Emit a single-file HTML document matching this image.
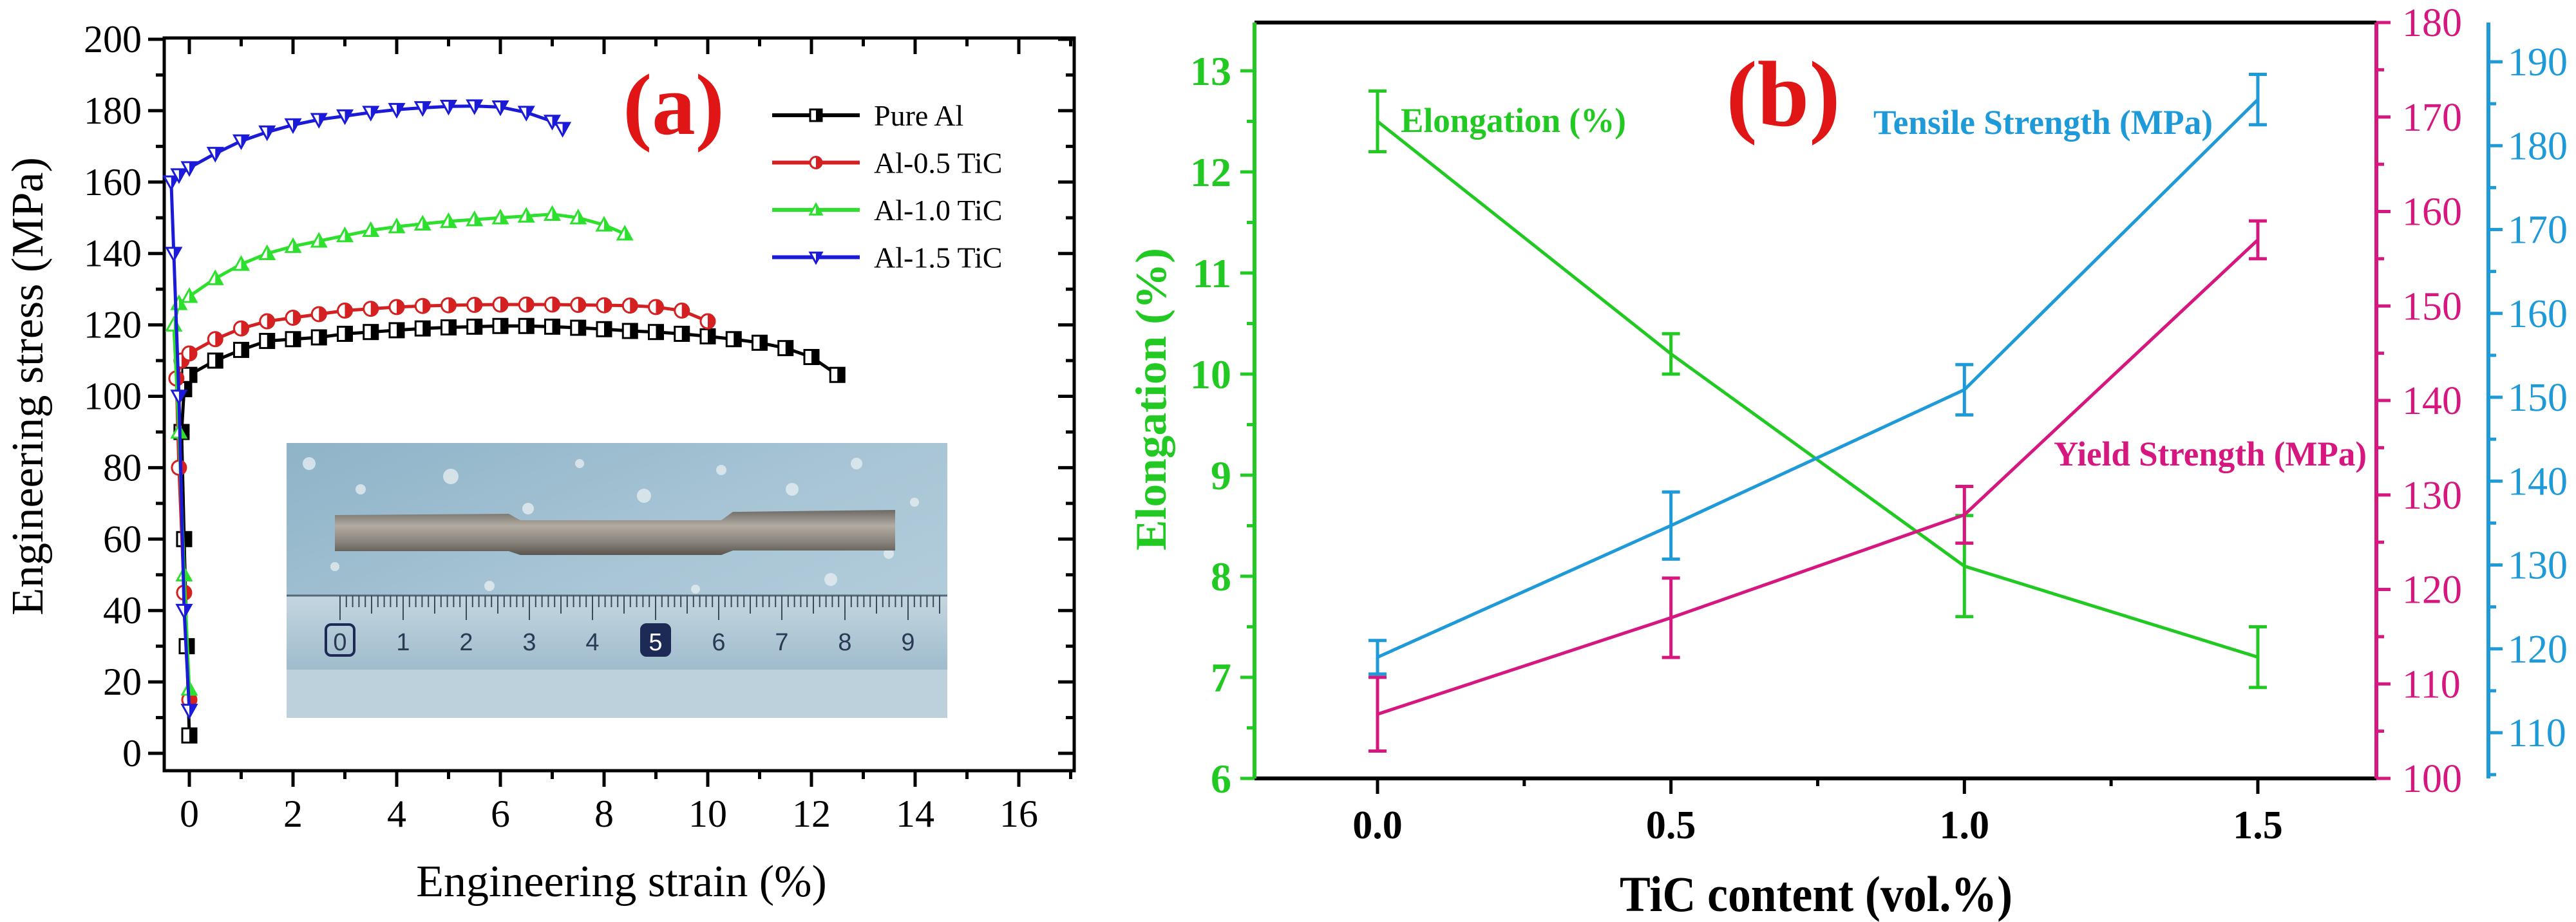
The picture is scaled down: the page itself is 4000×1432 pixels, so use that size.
<!DOCTYPE html>
<html><head><meta charset="utf-8"><style>
html,body{margin:0;padding:0;background:#fff;}
svg{display:block;font-family:"Liberation Serif",serif;}
</style></head><body>
<svg id="fig" width="4000" height="1432" viewBox="0 0 4000 1432" xmlns="http://www.w3.org/2000/svg">
<defs>
<linearGradient id="photoBg" x1="0" y1="0" x2="1" y2="1"><stop offset="0" stop-color="#8fb3c8"/><stop offset="0.5" stop-color="#a9c6d6"/><stop offset="1" stop-color="#b8d0dc"/></linearGradient>
<linearGradient id="rodG" x1="0" y1="0" x2="0" y2="1"><stop offset="0" stop-color="#6e6a64"/><stop offset="0.35" stop-color="#b2aca2"/><stop offset="0.7" stop-color="#8a857c"/><stop offset="1" stop-color="#5a564f"/></linearGradient>
<linearGradient id="rulerG" x1="0" y1="0" x2="0" y2="1"><stop offset="0" stop-color="#c4d6e0"/><stop offset="1" stop-color="#9fbccc"/></linearGradient>
</defs>
<g id="panelA"></g>
<g id="panelB"></g>
</svg>
<script>
// ---------- Panel (a) data ----------
const xTicksA = [0,2,4,6,8,10,12,14,16];
const yTicksA = [0,20,40,60,80,100,120,140,160,180,200];
const seriesNames = ["Pure Al","Al-0.5 TiC","Al-1.0 TiC","Al-1.5 TiC"];
const strainPure = [0,-0.05,-0.1,-0.15,-0.1,0,0.5,1,1.5,2,2.5,3,3.5,4,4.5,5,5.5,6,6.5,7,7.5,8,8.5,9,9.5,10,10.5,11,11.5,12,12.5];
const stressPure = [5,30,60,90,102,106,110,113,115.5,116,116.5,117.5,118,118.5,119,119.3,119.5,119.7,119.7,119.5,119.2,118.8,118.3,118,117.5,116.8,116,115,113.5,111,106];
const strain05 = [0,-0.1,-0.2,-0.25,-0.15,0,0.5,1,1.5,2,2.5,3,3.5,4,4.5,5,5.5,6,6.5,7,7.5,8,8.5,9,9.5,10];
const stress05 = [15,45,80,105,110,112,116,119,121,122,123,124,124.5,125,125.3,125.5,125.6,125.7,125.7,125.7,125.6,125.5,125.4,125,124,121];
const strain10 = [0,-0.1,-0.2,-0.3,-0.2,0,0.5,1,1.5,2,2.5,3,3.5,4,4.5,5,5.5,6,6.5,7,7.5,8,8.4];
const stress10 = [18,50,90,120,126,128,133,137,140,142,143.5,145,146.5,147.5,148.3,149,149.5,150,150.5,151,150,148,145.5];
const strain15 = [0,-0.1,-0.2,-0.3,-0.35,-0.2,0,0.5,1,1.5,2,2.5,3,3.5,4,4.5,5,5.5,6,6.5,7,7.2];
const stress15 = [12,40,100,140,160,162,164,168,171.5,174,176,177.5,178.5,179.5,180.3,180.8,181.2,181.3,181,179.5,177,175];

// ---------- Panel (b) data ----------
const ticContent = [0,0.5,1.0,1.5];
const xTickLabelsB = ["0.0","0.5","1.0","1.5"];
const elongation = [12.5,10.2,8.1,7.2];
const elongationErr = [0.3,0.2,0.5,0.3];
const yieldStrength = [106.8,117,127.9,157];
const yieldErr = [3.9,4.2,3,2];
const tensileStrength = [119,134.7,150.9,185.5];
const tensileErr = [2,4,3,3];
const greenTicks = [6,7,8,9,10,11,12,13];
const pinkTicks = [100,110,120,130,140,150,160,170,180];
const blueTicks = [110,120,130,140,150,160,170,180,190];

const NS="http://www.w3.org/2000/svg";
function mk(tag,attrs,parent,text){const e=document.createElementNS(NS,tag);for(const k in attrs)e.setAttribute(k,attrs[k]);if(text!==undefined)e.textContent=text;parent.appendChild(e);return e;}

// ================= PANEL A =================
const A=document.getElementById('panelA');
const xA=s=>294+80.5*s, yA=v=>1170-5.545*v;
const fL=255,fR=1668,fT=59,fB=1197;

const photo=mk('g',{},A);


mk('rect',{x:445,y:688,width:1026,height:427,fill:'url(#photoBg)'},photo);
[[480,720,10],[560,760,8],[700,740,12],[820,790,9],[900,720,7],[1000,770,11],[1120,730,8],[1230,760,10],[1330,720,9],[1420,780,7],[610,830,8],[950,850,10],[1180,840,9],[1380,860,8],[520,880,7],[1290,900,10],[760,910,8],[1080,915,7]].forEach(p=>mk('circle',{cx:p[0],cy:p[1],r:p[2],fill:'#e4ecef',opacity:0.8},photo));
mk('path',{d:'M520 800 L790 798 L808 808 L1120 808 L1138 795 L1390 792 L1390 855 L1138 855 L1120 862 L808 862 L790 856 L520 856 Z',fill:'url(#rodG)'},photo);
mk('rect',{x:445,y:925,width:1026,height:115,fill:'url(#rulerG)'},photo);
mk('rect',{x:445,y:1040,width:1026,height:75,fill:'#bcd1dc'},photo);
mk('line',{x1:445,y1:925,x2:1471,y2:925,stroke:'#556a78','stroke-width':3},photo);
for(let i=0;i<=95;i++){const x=528+i*9.8;mk('line',{x1:x,y1:925,x2:x,y2:925+(i%10===0?38:(i%5===0?28:18)),stroke:'#3a4a58','stroke-width':2},photo);}
['0','1','2','3','4','5','6','7','8','9'].forEach((t,i)=>{const x=528+i*98;
 if(i===0||i===5){mk('rect',{x:x-22,y:970,width:44,height:48,rx:8,fill:i===5?'#1d2a55':'none',stroke:'#1d2a55','stroke-width':4},photo);}
 mk('text',{x:x,y:1010,'font-family':'Liberation Sans, sans-serif','font-size':38,'text-anchor':'middle',fill:i===5?'#fff':'#2a3a55'},photo,t);});

const frameA=mk('rect',{x:fL,y:fT,width:fR-fL,height:fB-fT,fill:'none',stroke:'#000','stroke-width':5},A);



for(let s=0;s<=17;s++){const x=xA(s);const maj=s%2===0;const L=maj?25:13;
 mk('line',{x1:x,y1:fB,x2:x,y2:fB+L,stroke:'#000','stroke-width':5},A);
 mk('line',{x1:x,y1:fT,x2:x,y2:fT+L,stroke:'#000','stroke-width':5},A);}
xTicksA.forEach(t=>{const e=mk('text',{x:xA(t),y:1284,'font-size':60,'text-anchor':'middle'},A,String(t));
 
 });
for(let v=0;v<=200;v+=10){const y=yA(v);const maj=v%20===0;const L=maj?25:13;
 mk('line',{x1:fL,y1:y,x2:fL-L,y2:y,stroke:'#000','stroke-width':5},A);
 mk('line',{x1:fR,y1:y,x2:fR-L,y2:y,stroke:'#000','stroke-width':5},A);}
yTicksA.forEach(t=>{const e=mk('text',{x:220,y:yA(t)+20,'font-size':60,'text-anchor':'end'},A,String(t));
 
 });
let tt=mk('text',{x:965,y:1392,'font-size':70,'text-anchor':'middle'},A,'Engineering strain (%)');


tt=mk('text',{x:0,y:0,'font-size':70,'text-anchor':'middle',transform:'translate(66,600) rotate(-90)'},A,'Engineering stress (MPa)');


tt=mk('text',{x:1046,y:208,'font-size':135,'font-weight':'bold','text-anchor':'middle',fill:'#e01515'},A,'(a)');



const colorsA=['#000000','#d42020','#2ee02e','#1a1ad8'];
const shapes=['square','circle','up','down'];
const xsA=[strainPure,strain05,strain10,strain15], ysA=[stressPure,stress05,stress10,stress15];
function marker(g,shape,x,y,c,r){
 if(shape==='square'){mk('rect',{x:x-r,y:y-r,width:2*r,height:2*r,fill:'#fff',stroke:c,'stroke-width':3},g);mk('rect',{x:x,y:y-r,width:r,height:2*r,fill:c},g);}
 else if(shape==='circle'){mk('circle',{cx:x,cy:y,r:r,fill:'#fff',stroke:c,'stroke-width':3},g);mk('path',{d:`M${x} ${y-r} A${r} ${r} 0 0 1 ${x} ${y+r} Z`,fill:c},g);}
 else if(shape==='up'){mk('path',{d:`M${x} ${y-r} L${x+r} ${y+r*0.8} L${x-r} ${y+r*0.8} Z`,fill:'#fff',stroke:c,'stroke-width':3},g);mk('path',{d:`M${x} ${y-r} L${x+r} ${y+r*0.8} L${x} ${y+r*0.8} Z`,fill:c},g);}
 else {mk('path',{d:`M${x} ${y+r} L${x+r} ${y-r*0.8} L${x-r} ${y-r*0.8} Z`,fill:'#fff',stroke:c,'stroke-width':3},g);mk('path',{d:`M${x} ${y+r} L${x+r} ${y-r*0.8} L${x} ${y-r*0.8} Z`,fill:c},g);}
}
for(let i=0;i<4;i++){
 const g=mk('g',{},A);
 
 
 const pts=xsA[i].map((s,j)=>xA(s)+','+yA(ysA[i][j])).join(' ');
 mk('polyline',{points:pts,fill:'none',stroke:colorsA[i],'stroke-width':5},g);
 xsA[i].forEach((s,j)=>marker(g,shapes[i],xA(s),yA(ysA[i][j]),colorsA[i],11));
}
const lg=mk('g',{},A);


seriesNames.forEach((n,i)=>{const y=179+i*73.5;
 const e=mk('g',{},lg);
 
 
 mk('line',{x1:1199,y1:y,x2:1335,y2:y,stroke:colorsA[i],'stroke-width':6},e);
 marker(e,shapes[i],1267,y,colorsA[i],9);
 mk('text',{x:1357,y:y+16,'font-size':46},e,n);});

// ================= PANEL B =================
const B=document.getElementById('panelB');
const xB=c=>2139+911.3*c;
const yG=v=>1209-157*(v-6), yP=v=>1209-14.675*(v-100), yBl=v=>1138-13.025*(v-110);
const bL=1948,bR=3690,bT=35,bB=1209;
const GREEN='#22c922',PINK='#d6177f',BLUE='#1e9ad8';
mk('line',{x1:bL,y1:bT,x2:bR,y2:bT,stroke:'#000','stroke-width':6},B);
mk('line',{x1:bL,y1:bB,x2:bR,y2:bB,stroke:'#000','stroke-width':6},B);
let ax=mk('line',{x1:bL,y1:bT,x2:bL,y2:bB,stroke:GREEN,'stroke-width':6},B);


ax=mk('line',{x1:bR,y1:bT,x2:bR,y2:bB,stroke:PINK,'stroke-width':6},B);


ax=mk('line',{x1:3864,y1:bT,x2:3864,y2:bB,stroke:BLUE,'stroke-width':6},B);


for(let c=0;c<=1.51;c+=0.25){const x=xB(c);const maj=Math.abs(c*2-Math.round(c*2))<1e-6;
 mk('line',{x1:x,y1:bB,x2:x,y2:bB+(maj?24:12),stroke:'#000','stroke-width':5},B);}
xTickLabelsB.forEach((t,i)=>{const e=mk('text',{x:xB(ticContent[i]),y:1302,'font-size':62,'font-weight':'bold','text-anchor':'middle'},B,t);
 
 });
for(let v=6;v<=13.01;v+=0.5){const y=yG(v);const maj=Math.abs(v-Math.round(v))<1e-6;
 mk('line',{x1:bL,y1:y,x2:bL-(maj?22:12),y2:y,stroke:GREEN,'stroke-width':5},B);}
greenTicks.forEach(t=>{const e=mk('text',{x:1912,y:yG(t)+22,'font-size':64,'font-weight':'bold','text-anchor':'end',fill:GREEN},B,String(t));
 
 });
for(let v=100;v<=180;v+=5){const y=yP(v);const maj=v%10===0;
 mk('line',{x1:bR,y1:y,x2:bR+(maj?22:12),y2:y,stroke:PINK,'stroke-width':5},B);}
pinkTicks.forEach(t=>{const e=mk('text',{x:3730,y:yP(t)+21,'font-size':62,fill:PINK},B,String(t));
 
 });
for(let v=105;v<=194;v+=5){const y=yBl(v);const maj=v%10===0;
 mk('line',{x1:3864,y1:y,x2:3864+(maj?22:12),y2:y,stroke:BLUE,'stroke-width':5},B);}
blueTicks.forEach(t=>{const e=mk('text',{x:3894,y:yBl(t)+21,'font-size':62,fill:BLUE},B,String(t));
 
 });

function series(vals,errs,yf,color,name){
 const g=mk('g',{},B);
 
 
 mk('polyline',{points:ticContent.map((c,i)=>xB(c)+','+yf(vals[i])).join(' '),fill:'none',stroke:color,'stroke-width':5},g);
 ticContent.forEach((c,i)=>{const x=xB(c),y1=yf(vals[i]+errs[i]),y2=yf(vals[i]-errs[i]);
  mk('line',{x1:x,y1:y1,x2:x,y2:y2,stroke:color,'stroke-width':5},g);
  mk('line',{x1:x-14,y1:y1,x2:x+14,y2:y1,stroke:color,'stroke-width':5},g);
  mk('line',{x1:x-14,y1:y2,x2:x+14,y2:y2,stroke:color,'stroke-width':5},g);});
}
series(elongation,elongationErr,yG,GREEN,'elongation-series');
series(yieldStrength,yieldErr,yP,PINK,'yield-strength-series');
series(tensileStrength,tensileErr,yBl,BLUE,'tensile-strength-series');

tt=mk('text',{x:2175,y:205,'font-size':54,'font-weight':'bold',fill:GREEN,textLength:350,lengthAdjust:'spacingAndGlyphs'},B,'Elongation (%)');


tt=mk('text',{x:2909,y:208,'font-size':54,'font-weight':'bold',fill:BLUE,textLength:527,lengthAdjust:'spacingAndGlyphs'},B,'Tensile Strength (MPa)');


tt=mk('text',{x:3189,y:723,'font-size':54,'font-weight':'bold',fill:PINK,textLength:486,lengthAdjust:'spacingAndGlyphs'},B,'Yield Strength (MPa)');


tt=mk('text',{x:2769,y:195,'font-size':145,'font-weight':'bold','text-anchor':'middle',fill:'#e01515'},B,'(b)');


tt=mk('text',{x:2820,y:1415,'font-size':78,'font-weight':'bold','text-anchor':'middle',textLength:610,lengthAdjust:'spacingAndGlyphs'},B,'TiC content (vol.%)');


tt=mk('text',{x:0,y:0,'font-size':68,'font-weight':'bold','text-anchor':'middle',fill:GREEN,transform:'translate(1810,620) rotate(-90)',textLength:470,lengthAdjust:'spacingAndGlyphs'},B,'Elongation (%)');


</script>
</body></html>
